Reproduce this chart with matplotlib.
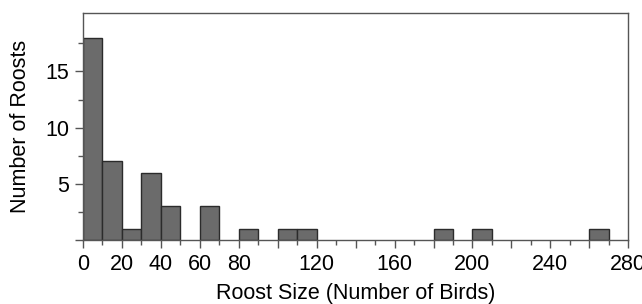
import numpy as np
import matplotlib.pyplot as plt
from matplotlib.ticker import MultipleLocator, FixedLocator

plt.rcParams['font.family'] = ['Liberation Sans', 'DejaVu Sans']

# histogram: 10-bird bins from 0 to 280
bin_edges = np.arange(0, 290, 10)
counts = [18, 7, 1, 6, 3, 0, 3, 0, 1, 0, 1, 1, 0, 0,
          0, 0, 0, 0, 1, 0, 1, 0, 0, 0, 0, 0, 1, 0]
x_labels = [0, 20, 40, 60, 80, 120, 160, 200, 240, 280]
y_labels = [5, 10, 15]

fig = plt.figure(figsize=(6.42, 3.04), dpi=100)
ax = fig.add_axes([0.129, 0.2105, 0.8497, 0.7465])

for left, c in zip(bin_edges[:-1], counts):
    if c > 0:
        ax.bar(left, c, width=10, align='edge', color='#6b6b6b',
               edgecolor='#2b2b2b', linewidth=1.0)

ax.set_xlim(0, 280)
ax.set_ylim(0, 20.2)

for s in ax.spines.values():
    s.set_color('#555555')
    s.set_linewidth(1.0)

ax.xaxis.set_major_locator(MultipleLocator(20))
ax.xaxis.set_minor_locator(MultipleLocator(10))
ax.set_xticklabels([str(int(v)) if int(v) in x_labels else '' for v in ax.get_xticks()])
ax.yaxis.set_major_locator(FixedLocator([0, 5, 10, 15]))
ax.yaxis.set_minor_locator(FixedLocator([2.5, 7.5, 12.5, 17.5]))
ax.set_yticklabels(['', '5', '10', '15'])

ax.tick_params(which='major', length=6, width=1.0, color='#555555', labelsize=15.5, pad=4)
ax.tick_params(which='minor', length=3.5, width=1.0, color='#555555')

ax.set_xlabel("Roost Size (Number of Birds)", fontsize=15.5, labelpad=6)
ax.set_ylabel("Number of Roosts", fontsize=15.5, labelpad=10)

plt.savefig("out.png", dpi=100)
plt.close()
